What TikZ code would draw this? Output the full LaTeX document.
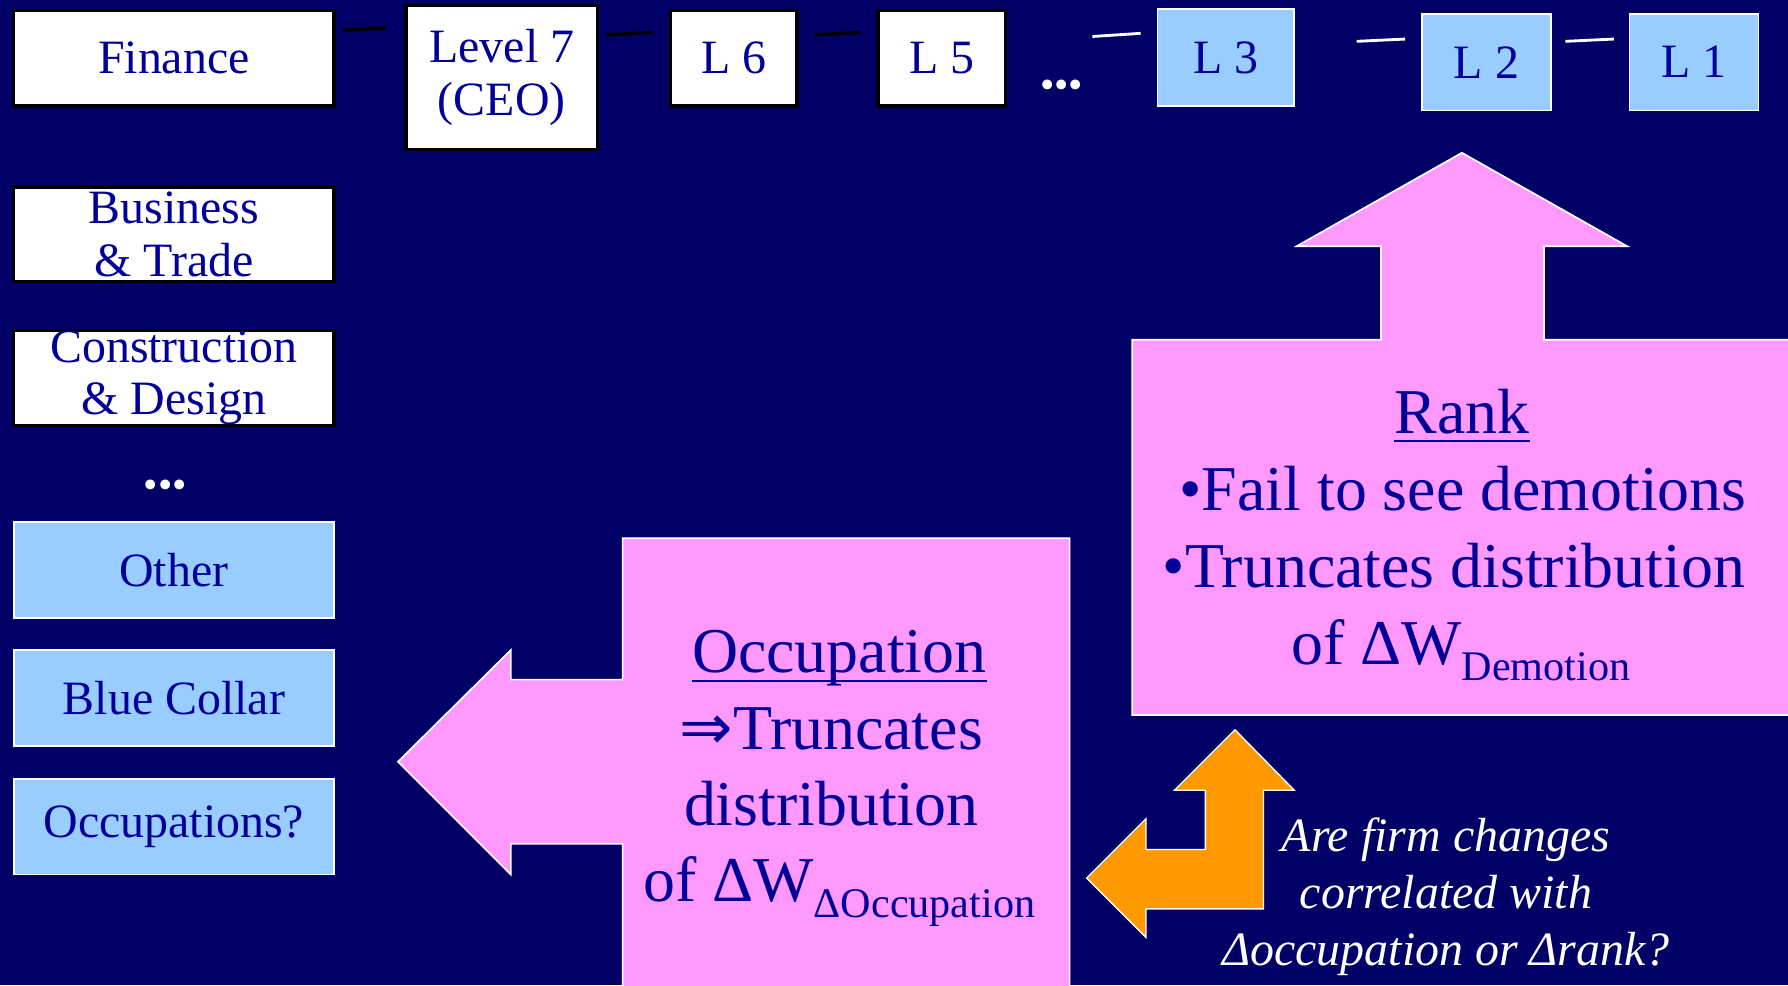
\documentclass[tikz,border=0pt]{standalone}
\usepackage{fontspec}
\setmainfont{Liberation Serif}
\newfontfamily\arrowfont{DejaVu Sans}
\usetikzlibrary{calc}
\definecolor{bgnavy}{RGB}{0,0,102}
\definecolor{pinkfill}{RGB}{255,153,255}
\definecolor{lblue}{RGB}{153,204,255}
\definecolor{tblue}{RGB}{0,0,153}
\definecolor{orangefill}{RGB}{255,153,0}
\begin{document}
\begin{tikzpicture}[x=1pt,y=-1pt,
  whitebox/.style={draw=black, line width=3pt, fill=white, text=tblue, inner sep=0pt, align=center, font=\fontsize{42}{46}\selectfont},
  bluebox/.style={draw=white, line width=1.5pt, fill=lblue, text=tblue, inner sep=0pt, align=center, font=\fontsize{42}{46}\selectfont},
  blackline/.style={draw=black, line width=3pt},
  whiteline/.style={draw=white, line width=2.5pt},
  callout/.style={fill=pinkfill, draw=white, line width=1.5pt},
  bigtxt/.style={text=tblue, font=\fontsize{56}{67}\selectfont, anchor=base, inner sep=0pt},
  uline/.style={draw=tblue, line width=2pt},
  itxt/.style={text=white, font=\fontsize{42}{50}\selectfont\itshape, anchor=base, inner sep=0pt},
  dotstxt/.style={text=white, font=\fontsize{36}{40}\selectfont, anchor=base, inner sep=0pt}]
\useasboundingbox (0,0) rectangle (1568,864);
\fill[bgnavy] (0,0) rectangle (1568,864);

% top row
\node[whitebox, minimum width=281pt, minimum height=84pt] (fin) at (152.5,51) {Finance};
\node[whitebox, minimum width=168pt, minimum height=126pt] (l7) at (440,68) {Level 7\\(CEO)};
\node[whitebox, minimum width=111pt, minimum height=84pt] (l6) at (643.5,51) {L 6};
\node[whitebox, minimum width=112pt, minimum height=84pt] (l5) at (826,51) {L 5};
\node[dotstxt] (tdots) at (931,86) {•••};
\node[bluebox, minimum width=120pt, minimum height=85pt] (l3) at (1075,50.5) {L 3};
\node[bluebox, minimum width=113pt, minimum height=85pt] (l2) at (1303.5,54.5) {L 2};
\node[bluebox, minimum width=113pt, minimum height=85pt] (l1) at (1485.5,54.5) {L 1};

\draw[blackline] ($(fin.north east)+(6,19)$) -- ($(l7.north west)+(-16,21)$);
\draw[blackline] ($(l7.north east)+(6,27)$) -- ($(l6.north west)+(-14,21)$);
\draw[blackline] ($(l6.north east)+(14,23)$) -- ($(l5.north west)+(-14,21)$);
\coordinate (c3) at (958,32);
\draw[whiteline] (c3) -- ($(l3.north west)+(-14,22)$);
\draw[whiteline] ($(l3.north east)+(54,29)$) -- ($(l2.north west)+(-14,23)$);
\draw[whiteline] ($(l2.north east)+(12,25)$) -- ($(l1.north west)+(-13,23)$);

% left column
\node[whitebox, minimum width=281pt, minimum height=83pt] (bus) at (152.5,205.5) {Business\\\& Trade};
\node[whitebox, minimum width=281pt, minimum height=83pt] (con) at (152.5,331.5) {Construction\\\& Design};
\node[dotstxt] (ldots) at (145,437) {•••};
\node[bluebox, minimum width=281pt, minimum height=84pt] (oth) at (152.5,500) {Other};
\node[bluebox, minimum width=281pt, minimum height=84pt] (blue) at (152.5,612) {Blue Collar};
\node[bluebox, minimum width=281pt, minimum height=84pt] (occs) at (152.5,725) {Occupations?};

% occupation callout
\draw[callout] (546,472) -- (938,472) -- (938,870) -- (546,870) -- (546,740) -- (448,740) -- (448,767) -- (349,668) -- (448,570) -- (448,596) -- (546,596) -- cycle;
\node[bigtxt] (o1) at (736,590) {Occupation};
\draw[uline] ([yshift=-7pt]o1.base west) -- ([yshift=-7pt]o1.base east);
\node[bigtxt] (o2) at (729,657) {{\arrowfont ⇒}Truncates};
\node[bigtxt] (o3) at (729,724) {distribution};
\node[bigtxt] (o4) at (736,791) {of ΔW\raisebox{-14pt}{\fontsize{37}{40}\selectfont ΔOccupation}};

% rank callout
\draw[callout] (993,298) -- (1211,298) -- (1211,216) -- (1137,216) -- (1282,134) -- (1427,216) -- (1354,216) -- (1354,298) -- (1575,298) -- (1575,627) -- (993,627) -- cycle;
\node[bigtxt] (r1) at (1282,380) {Rank};
\draw[uline] ([yshift=-7pt]r1.base west) -- ([yshift=-7pt]r1.base east);
\node[bigtxt] (r2) at (1283,448) {•Fail to see demotions};
\node[bigtxt] (r3) at (1275,515) {•Truncates distribution};
\node[bigtxt] (r4) at (1281,583) {of ΔW\raisebox{-14pt}{\fontsize{37}{40}\selectfont Demotion}};

% orange bent arrow
\draw[fill=orangefill, draw=white, line width=1.2pt] (1083,640) -- (1135,693) -- (1108,693) -- (1108,797) -- (1005,797) -- (1005,822) -- (953,770) -- (1005,718) -- (1005,745) -- (1057,745) -- (1057,693) -- (1030,693) -- cycle;

\node[itxt] (q1) at (1268,747) {Are firm changes};
\node[itxt] (q2) at (1268,797) {correlated with};
\node[itxt] (q3) at (1268,847) {Δoccupation or Δrank?};
\end{tikzpicture}
\end{document}
